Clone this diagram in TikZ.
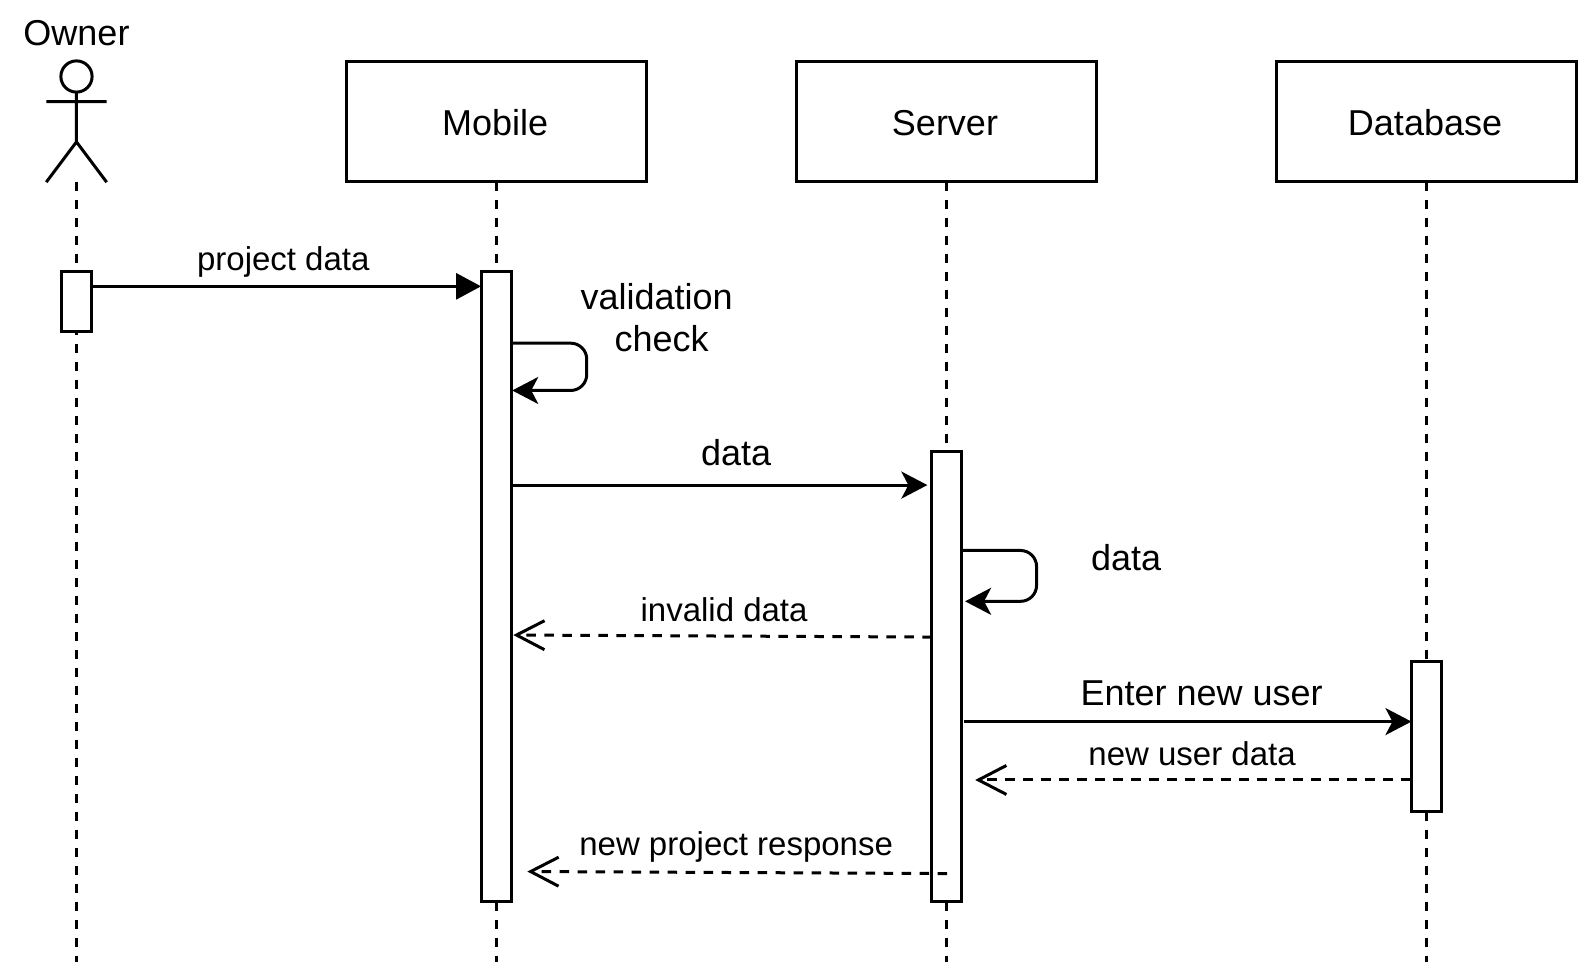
\documentclass[tikz,border=0pt]{standalone}
\usepackage{fontspec}
\setmainfont{Liberation Sans}
\usetikzlibrary{arrows.meta}
\tikzset{
  x=1.00638pt,y=-1.00638pt,
  line/.style={draw=black,line width=3pt},
  box/.style={draw=black,line width=3pt,fill=white,minimum width=300pt,minimum height=120pt,inner sep=0pt},
  bar/.style={draw=black,line width=3pt,fill=white,minimum width=29.8pt,inner sep=0pt},
  life/.style={draw=black,line width=3pt,dash pattern=on 9.5pt off 8.5pt},
  lbl/.style={inner sep=0pt,font=\fontsize{33}{40}\selectfont},
  lblb/.style={inner sep=0pt,font=\fontsize{36}{42}\selectfont,align=center},
  solidtip/.style={-{Triangle[length=25pt,width=26pt]}},
  sharp/.style={-{Stealth[length=26pt,width=27pt,inset=7pt]}},
  openarr/.style={dash pattern=on 9.5pt off 8.5pt,-{Straight Barb[length=28pt,width=29pt,line width=3pt]}},
}
\begin{document}
\begin{tikzpicture}
\useasboundingbox (0,0) rectangle (1568,956.9);
\fill[white] (0,0) rectangle (1568,956.9);
% lifelines
\coordinate (oT) at (76,180.5); \coordinate (oB) at (76,955.6);
\coordinate (mT) at (493,180.5); \coordinate (mB) at (493,955.6);
\coordinate (sT) at (940.4,180.5); \coordinate (sB) at (940.4,955.6);
\coordinate (dT) at (1417.4,180.5); \coordinate (dB) at (1417.4,955.6);
\draw[life] (oT)--(oB);
\draw[life] (mT)--(mB);
\draw[life] (sT)--(sB);
\draw[life] (dT)--(dB);
% heads
\node[box] (mobile) at (493,121) {};
\node[box] (server) at (940,121) {};
\node[box] (database) at (1417,121) {};
\node[lblb] at (492,122) {Mobile};
\node[lblb] at (939,122) {Server};
\node[lblb] at (1416,122) {Database};
\node[lblb] (owner) at (76,33) {Owner};
% actor
\draw[line] (76,76) circle (15.5);
\draw[line] (76,91)--(76,141) (46,101)--(106,101) (76,141)--(46,181) (76,141)--(106,181);
% bars
\node[bar,minimum height=60pt] (oA) at (76,299.5) {};
\node[bar,minimum height=630pt] (mA) at (493,583) {};
\node[bar,minimum height=450pt] (sA) at (940.4,672.5) {};
\node[bar,minimum height=150pt] (dA) at (1417.4,732) {};
% messages
\coordinate (a1) at (91,284.5); \coordinate (a2) at (478,284.5);
\draw[line,solidtip] (a1)--(a2);
\node[lbl] at (281.5,260) {project data};
\coordinate (v1) at (508,341); \coordinate (v2) at (509,388);
\draw[line,sharp,rounded corners=16pt] (v1)--(583,341)--(583,388)--(v2);
\node[lblb] at (652.5,295) {validation};
\node[lblb] at (657.5,336) {check};
\coordinate (b1) at (508,482); \coordinate (b2) at (921.5,482);
\draw[line,sharp] (b1)--(b2);
\node[lblb] at (731.5,450) {data};
\coordinate (w1) at (955,547); \coordinate (w2) at (959,597.5);
\draw[line,sharp,rounded corners=16pt] (w1)--(1030,547)--(1030,597.5)--(w2);
\node[lblb] at (1119,554) {data};
\coordinate (c1) at (926,633); \coordinate (c2) at (510,631);
\draw[line,openarr] (c1)--(c2);
\node[lbl] at (719.5,606) {invalid data};
\coordinate (d1) at (958,717); \coordinate (d2) at (1402.5,717);
\draw[line,sharp] (d1)--(d2);
\node[lblb] at (1194,689) {Enter new user};
\coordinate (e1) at (1402,775); \coordinate (e2) at (969,775);
\draw[line,openarr] (e1)--(e2);
\node[lbl] at (1184.5,749) {new user data};
\coordinate (f1) at (941,868); \coordinate (f2) at (524,866);
\draw[line,openarr] (f1)--(f2);
\node[lbl] at (731.5,842) {new project response};
\end{tikzpicture}
\end{document}
